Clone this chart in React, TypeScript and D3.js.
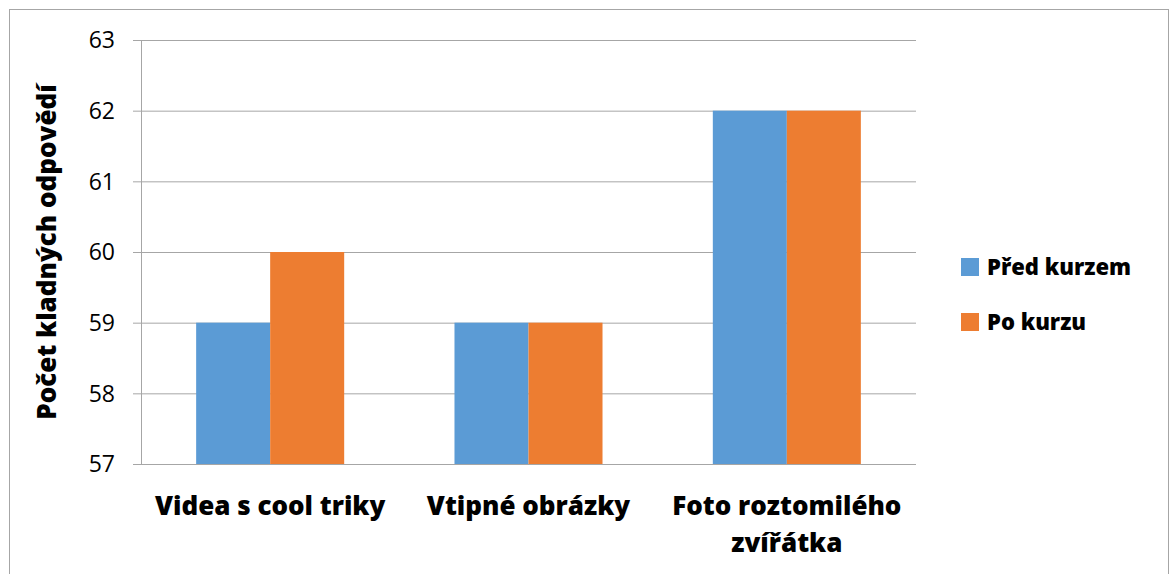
import React from 'react';
import * as d3 from 'd3';

const W = 1170;
const H = 574;

const categories = [['Videa s cool triky'], ['Vtipné obrázky'], ['Foto roztomilého', 'zvířátka']];
const seriesNames = ['Před kurzem', 'Po kurzu'];
const seriesColors = ['#5B9BD5', '#ED7D31'];
const predKurzem = [59, 59, 62];
const poKurzu = [60, 59, 62];
const yTicks = [57, 58, 59, 60, 61, 62, 63];

const font = '"Open Sans", Lato, sans-serif';

export default function App() {
  const left = 141;
  const right = 916;
  const top = 40;
  const bottom = 464;

  const keys = categories.map((c) => c.join(' '));
  const x0 = d3.scaleBand<string>().domain(keys).range([left, right]).paddingInner(0.427).paddingOuter(0.2135);
  const x1 = d3.scaleBand<number>().domain([0, 1]).range([0, x0.bandwidth()]);
  const y = d3.scaleLinear().domain([57, 63]).range([bottom, top]);
  const values = [predKurzem, poKurzu];

  return (
    <svg width={W} height={H} style={{ position: 'absolute', left: 0, top: 0, background: '#fff' }}>
      <rect x={9.5} y={9.5} width={1159} height={600} fill="#fff" stroke="#A6A6A6" />
      {yTicks.map((t) => (
        <g key={t}>
          <line x1={133} x2={right} y1={y(t) + 0.5} y2={y(t) + 0.5} stroke="#A6A6A6" />
          <text x={115} y={y(t)} dy="0.36em" textAnchor="end" fontFamily={font} fontSize={23} fill="#000">
            {t}
          </text>
        </g>
      ))}
      <line x1={left + 0.5} x2={left + 0.5} y1={top} y2={bottom} stroke="#A6A6A6" />
      {keys.map((k, i) =>
        values.map((vals, s) => (
          <rect
            key={k + s}
            x={(x0(k) ?? 0) + (x1(s) ?? 0)}
            y={y(vals[i])}
            width={x1.bandwidth()}
            height={bottom - y(vals[i])}
            fill={seriesColors[s]}
          />
        ))
      )}
      {categories.map((lines, i) => (
        <text
          key={i}
          x={(x0(keys[i]) ?? 0) + x0.bandwidth() / 2}
          y={515}
          textAnchor="middle"
          fontFamily={font}
          fontWeight={800}
          fontSize={26}
          fill="#000"
        >
          {lines.map((l, j) => (
            <tspan key={j} x={(x0(keys[i]) ?? 0) + x0.bandwidth() / 2} dy={j === 0 ? 0 : 37}>
              {l}
            </tspan>
          ))}
        </text>
      ))}
      <text
        transform={`translate(56,${(top + bottom) / 2}) rotate(-90)`}
        textAnchor="middle"
        fontFamily={font}
        fontWeight={800}
        fontSize={26}
        fill="#000"
      >
        Počet kladných odpovědí
      </text>
      {seriesNames.map((n, s) => (
        <g key={n} transform={`translate(961,${258 + s * 55})`}>
          <rect width={18} height={18} fill={seriesColors[s]} />
          <text x={26} y={9} dy="0.36em" fontFamily={font} fontWeight={800} fontSize={22} fill="#000">
            {n}
          </text>
        </g>
      ))}
    </svg>
  );
}
